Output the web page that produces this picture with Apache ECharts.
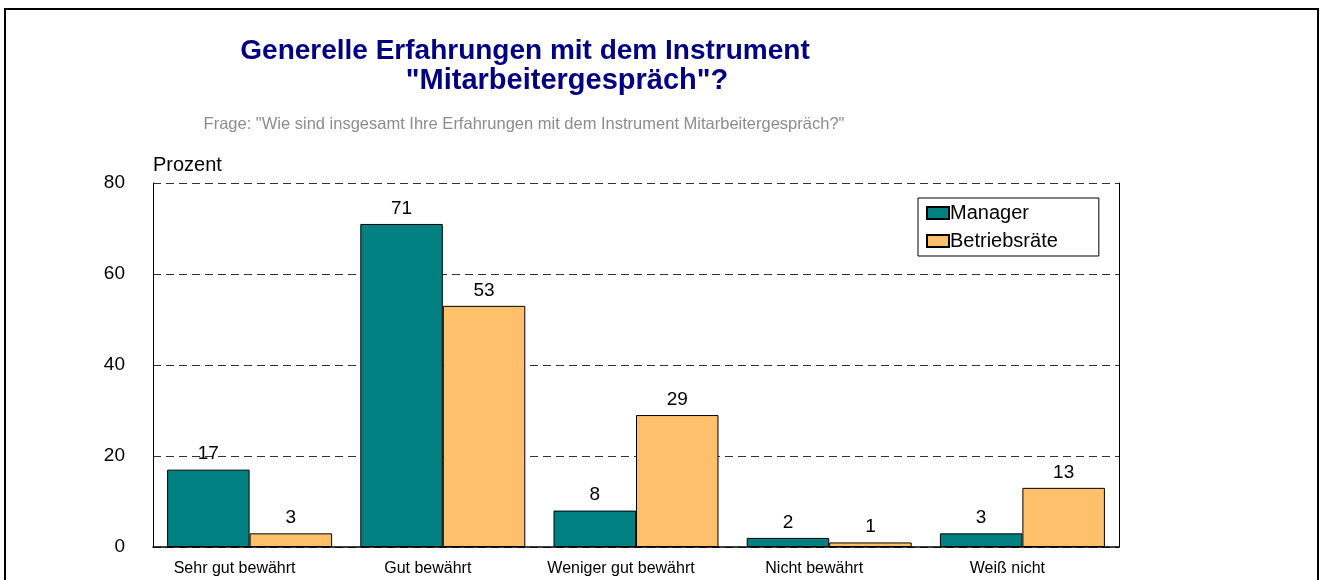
<!DOCTYPE html>
<html>
<head>
<meta charset="utf-8">
<script src="https://cdn.jsdelivr.net/npm/echarts@6/dist/echarts.min.js"></script>
<style>
html, body { margin: 0; padding: 0; background: #fff; }
#chart { width: 1322px; height: 580px; }
</style>
</head>
<body>
<div id="chart"></div>
<script>
var categories = ['Sehr gut bewährt', 'Gut bewährt', 'Weniger gut bewährt', 'Nicht bewährt', 'Weiß nicht'];
var managerValues = [17, 71, 8, 2, 3];
var betriebsraeteValues = [3, 53, 29, 1, 13];
var yTicks = [0, 20, 40, 60, 80];

var font = 'Liberation Sans, Arial, sans-serif';

var chart = echarts.init(document.getElementById('chart'));

var labelStyle = {
	show: true,
	position: 'top',
	distance: 6,
	color: '#000',
	fontSize: 19,
	fontFamily: font
};

var option = {
	animation: false,
	textStyle: { fontFamily: font },
	title: [{
		text: 'Generelle Erfahrungen mit dem Instrument',
		left: 520,
		top: 32,
		textAlign: 'center',
		textStyle: { color: '#000080', fontSize: 28, fontWeight: 'bold', fontFamily: font }
	}, {
		text: '"Mitarbeitergespräch"?',
		left: 562,
		top: 61,
		textAlign: 'center',
		textStyle: { color: '#000080', fontSize: 29, fontWeight: 'bold', fontFamily: font }
	}, {
		text: 'Frage: "Wie sind insgesamt Ihre Erfahrungen mit dem Instrument Mitarbeitergespräch?"',
		left: 519,
		top: 111,
		textAlign: 'center',
		textStyle: { color: '#8c8c8c', fontSize: 16.5, fontWeight: 'normal', fontFamily: font }
	}],
	legend: {
		orient: 'vertical',
		left: 918,
		top: 198,
		padding: [5, 41, 5, 8],
		itemGap: 8,
		itemWidth: 22,
		itemHeight: 12,
		borderColor: '#000',
		borderWidth: 1,
		borderRadius: 0,
		icon: 'rect',
		textStyle: { fontSize: 20, color: '#000', fontFamily: font, padding: [0, 0, 0, -4] },
		data: ['Manager', 'Betriebsräte']
	},
	grid: {
		left: 153,
		right: 203,
		top: 183,
		bottom: 33
	},
	xAxis: {
		type: 'category',
		data: categories,
		axisLine: { lineStyle: { color: '#000', width: 1.5 } },
		axisTick: { show: false },
		axisLabel: { color: '#000', fontSize: 16, margin: 14, padding: [0, 30, 0, 0], fontFamily: font }
	},
	yAxis: [{
		type: 'value',
		min: yTicks[0],
		max: yTicks[yTicks.length - 1],
		interval: 20,
		name: 'Prozent',
		nameLocation: 'end',
		nameGap: 8,
		nameTextStyle: { color: '#000', fontSize: 20, align: 'left', fontFamily: font },
		axisLine: { show: true, lineStyle: { color: '#000', width: 1 } },
		axisTick: { show: false },
		axisLabel: { color: '#000', fontSize: 19, margin: 28, fontFamily: font },
		splitLine: { lineStyle: { color: '#333', type: [8, 5], width: 1 } }
	}, {
		type: 'value',
		position: 'right',
		min: yTicks[0],
		max: yTicks[yTicks.length - 1],
		interval: 20,
		axisLine: { show: true, lineStyle: { color: '#000', width: 1 } },
		axisTick: { show: false },
		axisLabel: { show: false },
		splitLine: { show: false }
	}],
	series: [{
		name: 'Manager',
		type: 'bar',
		data: managerValues,
		barWidth: '42.7%',
		barGap: '0%',
		itemStyle: { color: '#008080', borderColor: '#000', borderWidth: 1 },
		label: labelStyle
	}, {
		name: 'Betriebsräte',
		type: 'bar',
		data: betriebsraeteValues,
		barWidth: '42.7%',
		barGap: '0%',
		itemStyle: { color: '#ffc06c', borderColor: '#000', borderWidth: 1 },
		label: labelStyle
	}],
	graphic: [{
		type: 'rect',
		shape: { x: 5, y: 9, width: 1313, height: 600 },
		style: { fill: 'none', stroke: '#000', lineWidth: 2 },
		silent: true
	}]
};

chart.setOption(option);
</script>
</body>
</html>
